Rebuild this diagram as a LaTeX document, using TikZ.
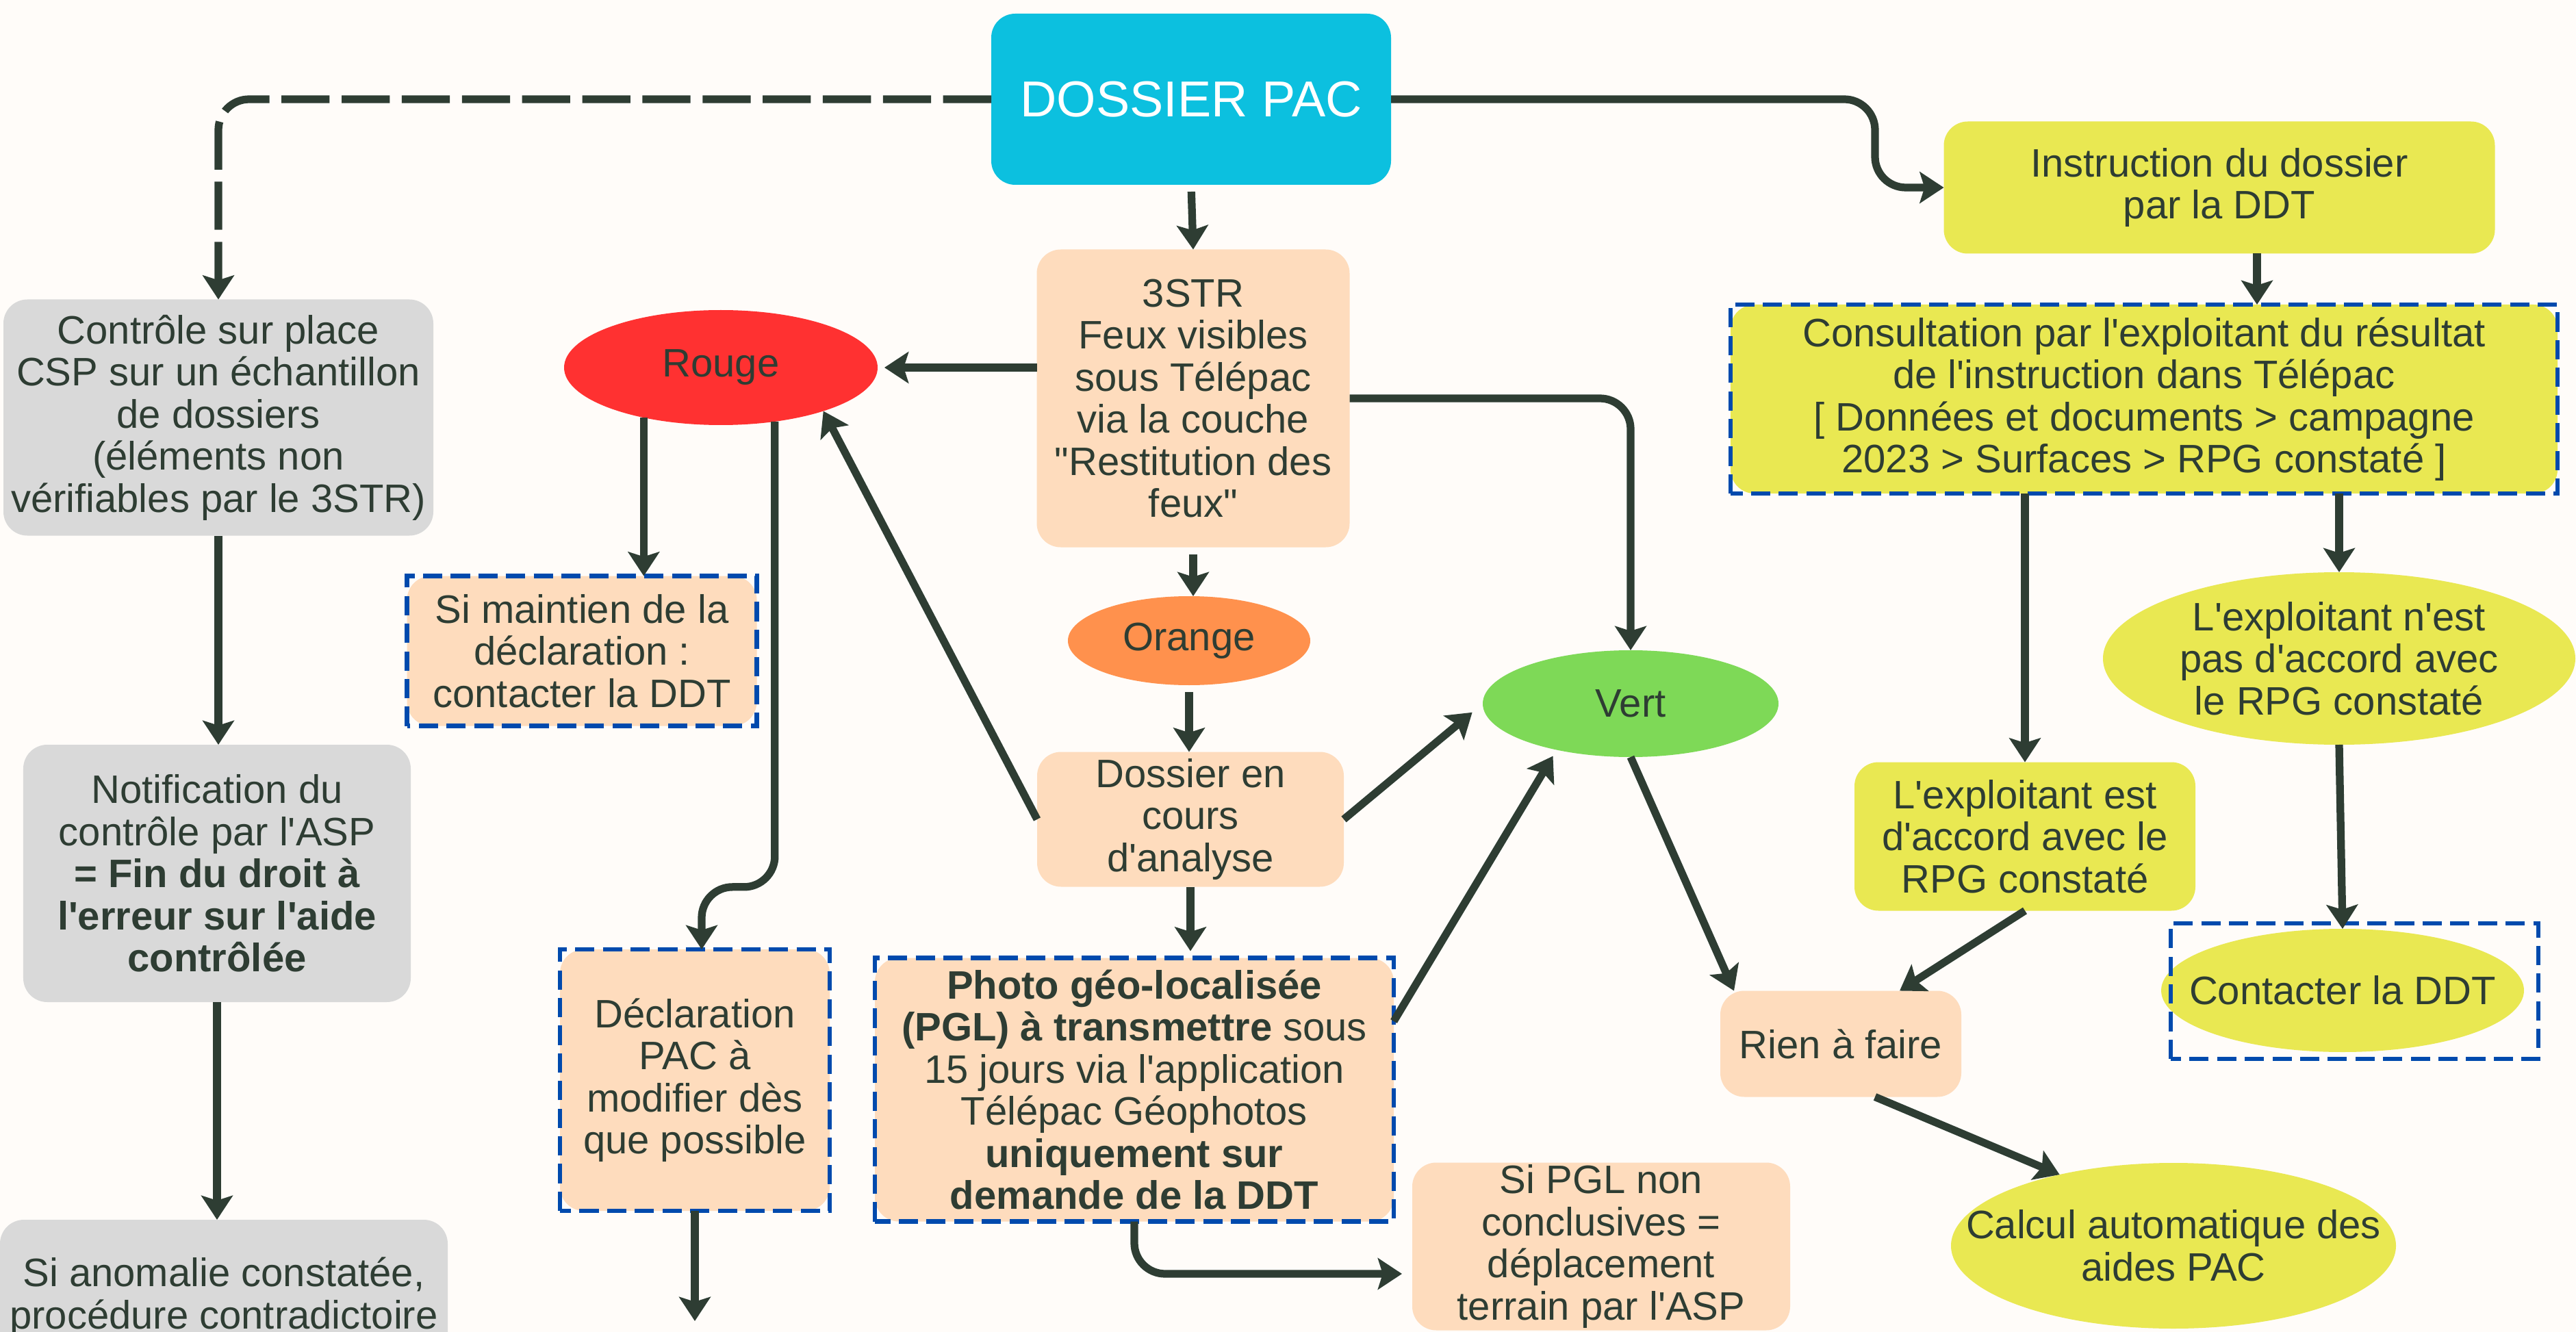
\documentclass[tikz,border=0pt]{standalone}
\usepackage{fontspec}
\setmainfont{Liberation Sans}[Ligatures=TeXOff]
\usetikzlibrary{arrows.meta,shapes.geometric}

\definecolor{paper}{HTML}{FFFCF9}
\definecolor{ink}{HTML}{2E3D33}
\definecolor{cyanpac}{HTML}{0CC0DF}
\definecolor{peach}{HTML}{FEDCBD}
\definecolor{greybox}{HTML}{D9D9D9}
\definecolor{lime}{HTML}{E9E852}
\definecolor{rouge}{HTML}{FF3131}
\definecolor{orangepac}{HTML}{FF914D}
\definecolor{vertpac}{HTML}{7ED957}
\definecolor{ddtblue}{HTML}{004AAD}

\begin{document}
\begin{tikzpicture}[>={Stealth[length=10pt,width=13pt,inset=2pt]}, box/.style={
  % The shape:
  rectangle, rounded corners=0.35cm,
  % The text:
  text=ink, align=center, font=\fontsize{16.5}{17.5}\selectfont,
  inner sep=0pt, outer sep=0pt},
  blob/.style={
  % The shape (its size comes from minimum width/height):
  ellipse, inner xsep=-1cm, inner ysep=0pt,
  % The text:
  text=ink, align=center, font=\fontsize{16.5}{17.5}\selectfont,
  outer sep=0pt},
  link/.style={draw=ink, line width=3.2pt},
  ddtframe/.style={draw=ddtblue, line width=1.8pt, dash pattern=on 8pt off 3.5pt}]

  \useasboundingbox [fill=paper] (0,0) rectangle (37.63,-19.46);

  % top
  \node [box, fill=cyanpac, minimum width=5.84cm, minimum height=2.5cm, text=white,
    font=\fontsize{21}{24}\selectfont] (dossier) at (17.40,-1.45) {DOSSIER PAC};

  % left column
  \node [box, fill=greybox, minimum width=6.28cm, minimum height=3.45cm] (csp) at (3.19,-6.10)
    {Contrôle sur place\\CSP sur un échantillon\\de dossiers\\(éléments non\\vérifiables par le 3STR)};
  \node [box, fill=greybox, minimum width=5.66cm, minimum height=3.76cm] (notif) at (3.17,-12.76)
    {Notification du\\contrôle par l'ASP\\\textbf{= Fin du droit à}\\\textbf{l'erreur sur l'aide}\\\textbf{contrôlée}};
  \node [box, fill=greybox, minimum width=6.54cm, inner ysep=0.55cm, anchor=north] (anom) at (3.27,-17.82)
    {Si anomalie constatée,\\procédure contradictoire};

  % rouge
  \node [blob, fill=rouge, minimum width=4.58cm, minimum height=1.68cm] (rouge) at (10.53,-5.37) {Rouge};
  \node [box, fill=peach, minimum width=5.11cm, minimum height=2.19cm] (maintien) at (8.50,-9.51)
    {Si maintien de la\\déclaration :\\contacter la DDT};
  \node [box, fill=peach, minimum width=3.94cm, minimum height=3.82cm] (declar) at (10.15,-15.78)
    {Déclaration\\PAC à\\modifier dès\\que possible};
  \coordinate (declarout) at (10.24,-19.30);

  % 3STR
  \node [box, fill=peach, minimum width=4.57cm, minimum height=4.35cm] (str) at (17.43,-5.82)
    {3STR\\Feux visibles\\sous Télépac\\via la couche\\"Restitution des\\feux"};
  \node [blob, fill=orangepac, minimum width=3.54cm, minimum height=1.30cm] (orange) at (17.37,-9.36) {Orange};
  \node [box, fill=peach, minimum width=4.48cm, minimum height=1.97cm] (cours) at (17.39,-11.97)
    {Dossier en\\cours\\d'analyse};
  \node [box, fill=peach, minimum width=7.58cm, minimum height=3.85cm] (photo) at (16.57,-15.92)
    {\textbf{Photo géo-localisée}\\\textbf{(PGL) à transmettre} sous\\15 jours via l'application\\Télépac Géophotos\\\textbf{uniquement sur}\\\textbf{demande de la DDT}};
  \node [box, fill=peach, minimum width=5.52cm, minimum height=2.45cm] (pgl) at (23.39,-18.21)
    {Si PGL non\\conclusives =\\déplacement\\terrain par l'ASP};

  % vert
  \node [blob, fill=vertpac, minimum width=4.32cm, minimum height=1.56cm] (vert) at (23.82,-10.28) {Vert};
  \node [box, fill=peach, minimum width=3.52cm, minimum height=1.55cm] (rien) at (26.89,-15.25) {Rien à faire};
  \node [blob, fill=lime, minimum width=6.50cm, minimum height=2.42cm] (calcul) at (31.75,-18.20)
    {Calcul automatique des\\aides PAC};

  % DDT
  \node [box, fill=lime, minimum width=8.05cm, minimum height=1.93cm] (instr) at (32.42,-2.74)
    {Instruction du dossier\\par la DDT};
  \node [box, fill=lime, minimum width=12.08cm, minimum height=2.76cm] (consult) at (31.32,-5.83)
    {Consultation par l'exploitant du résultat\\de l'instruction dans Télépac\\{[} Données et documents > campagne\\2023 > Surfaces > RPG constaté {]}};
  \node [box, fill=lime, minimum width=4.98cm, minimum height=2.17cm] (accord) at (29.58,-12.22)
    {L'exploitant est\\d'accord avec le\\RPG constaté};
  \node [blob, fill=lime, minimum width=6.90cm, minimum height=2.52cm] (desacc) at (34.17,-9.62)
    {L'exploitant n'est\\pas d'accord avec\\le RPG constaté};
  \node [blob, fill=lime, minimum width=5.30cm, minimum height=1.80cm] (contact) at (34.22,-14.47)
    {Contacter la DDT};

  % blue frames
  \draw [ddtframe] (maintien.south west) rectangle (maintien.north east);
  \draw [ddtframe] (declar.south west) rectangle (declar.north east);
  \draw [ddtframe] (photo.south west) rectangle (photo.north east);
  \draw [ddtframe] (consult.south west) rectangle (consult.north east);
  \draw [ddtframe] ([xshift=1.4mm,yshift=-1mm]contact.west |- contact.south)
    rectangle ([xshift=2.1mm,yshift=0.8mm]contact.east |- contact.north);

  % connectors
  \draw [link, ->, rounded corners=0.45cm, dash pattern=on 20pt off 5pt] (dossier.west) -| (csp.north);
  \draw [link, ->] (csp.south) -- (csp.south |- notif.north);
  \draw [link, ->] (notif.south) -- (notif.south |- anom.north);

  \draw [link, ->, shorten <=1mm] (dossier.south) -- (str.north);
  \draw [link, ->, shorten >=1mm] (str.west |- rouge) -- (rouge.east);
  \draw [link, ->, rounded corners=0.45cm] (str.east) -| (vert.north);
  \draw [link, ->, shorten <=1mm] (str.south) -- (str.south |- orange.north);
  \draw [link, ->, shorten <=1mm] (orange.south) -- (orange.south |- cours.north);
  \draw [link, ->] (cours.west) -- (rouge.-23);
  \draw [link, ->, shorten >=2mm] (cours.east) -- (vert.west);
  \draw [link, ->, shorten >=1mm] (cours.south) -- (cours.south |- photo.north);
  \draw [link, ->, rounded corners=0.45cm, shorten >=1.5mm] (photo.south) |- ([yshift=-4mm]pgl.west);
  \draw [link, ->, shorten >=3pt] ([yshift=1cm]photo.east) -- (vert.212);

  \draw [link, ->] (rouge.213) -- (rouge.213 |- maintien.north);
  \draw [link, ->, rounded corners=0.45cm] (rouge.-45) -- ++(0,-6.8) -| ([xshift=1mm]declar.north);
  \draw [link, ->] (declar.south) -- (declar.south |- declarout);

  \draw [link, ->] (vert.south) -- ([xshift=2mm]rien.north west);
  \draw [link, ->] ([xshift=5mm]rien.south) -- (calcul.148);

  \draw [link, ->, rounded corners=0.45cm] (dossier.east) -- ++(7.07,0) |- (instr.west);
  \draw [link, ->] ([xshift=5.5mm]instr.south) -- ([xshift=5.5mm]instr.south |- consult.north);
  \draw [link, ->] (consult.south -| accord) -- (accord.north);
  \draw [link, ->] (consult.south -| desacc) -- (desacc.north);
  \draw [link, ->] (accord.south) -- ([xshift=-9mm]rien.north east);
  \draw [link, ->] (desacc.south) -- (contact.north);

\end{tikzpicture}
\end{document}
